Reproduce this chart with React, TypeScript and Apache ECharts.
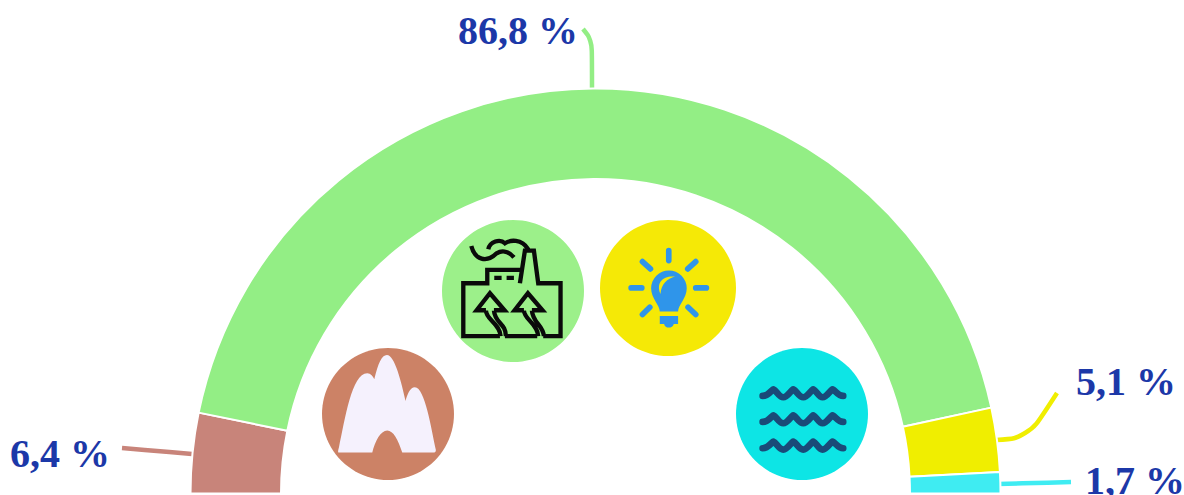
import React, { useEffect, useRef } from "react";
import * as echarts from "echarts";

const categories = ["Minerals", "Heat", "Electricity", "Water"];
const shares = [6.4, 86.8, 5.1, 1.7];
const sliceColors = ["#c8847a", "#93ee85", "#f0ee00", "#3fecf2"];

const labelAnchors = [
  { x: 10, y: 453, points: [[192, 454], [157, 451], [122, 448]] },
  { x: 458, y: 30, points: [[592, 91], [592, 40], [583, 29]] },
  { x: 1076, y: 381, points: [[996, 440], [1028, 438], [1057, 393]] },
  { x: 1085, y: 480, points: [[998, 484], [1035, 483], [1071, 482]] },
];

const FACTORY =
  "M210,379 L100,379 L100,220 L172,220 L172,180 L272,180 M270,220 L285,122 L312,122 L325,220 L392,220 L392,379 L340,379 M225,379 L322,379 " +
  "M168,302 C168,330 210,340 212,379 M192,302 C195,340 228,340 228,379 M168,301 L140,301 L180,250 L224,301 L192,301 " +
  "M282,302 C284,330 322,340 325,379 M306,302 C309,340 340,345 342,379 M282,301 L254,301 L294,250 L338,301 L306,301 " +
  "M124,108 C135,150 170,160 200,130 C220,118 240,128 252,142 M175,118 C180,95 210,85 225,100 C240,90 275,85 295,118 " +
  "M193,204 L215,204 M230,204 L252,204";
const BULB =
  "M690,305 C690,285 664,265 664,235 A53.5,53.5 0 1 1 771,235 C771,265 745,285 745,305 Z " +
  "M690,318 L745,318 L745,342 L732,342 C730,350 724,353 717,353 C710,353 705,350 703,342 L690,342 Z";
const BULB_RAYS =
  "M717,122 L717,152 M638,155 L662,177 M798,155 L774,177 M604,234 L636,234 M798,234 L830,234 M638,314 L660,292 M798,314 L775,292";
const BULB_SHINE = "M692,252 C678,218 700,196 736,200 C712,206 695,222 692,252 Z";
const PEAKS =
  "M85,338 Q83,335 87,322 C105,240 125,100 172,100 C182,100 190,110 193,118 C205,70 215,45 231,45 C255,45 275,130 287,183 C292,165 300,142 315,142 C345,142 365,270 378,330 Q378,338 370,338 L277,338 C265,300 250,272 232,272 C212,272 195,305 187,338 Z";
const WAVE =
  "M113,168 C130,168 138,152 145,148 C155,152 162,172 175,172 C188,172 197,152 205,148 C215,152 222,172 235,172 C248,172 257,152 265,148 C275,152 281,172 293,172 C306,172 315,152 323,148 C333,152 338,168 355,168";

echarts.graphic.registerShape("factoryIcon", echarts.graphic.extendPath(FACTORY, {}));
echarts.graphic.registerShape("bulbIcon", echarts.graphic.extendPath(BULB, {}));
echarts.graphic.registerShape("bulbRays", echarts.graphic.extendPath(BULB_RAYS, {}));
echarts.graphic.registerShape("bulbShine", echarts.graphic.extendPath(BULB_SHINE, {}));
echarts.graphic.registerShape("peaksIcon", echarts.graphic.extendPath(PEAKS, {}));
echarts.graphic.registerShape("waveIcon", echarts.graphic.extendPath(WAVE, {}));

const third = 1 / 3;
const icon = (type: string, x: number, y: number, style: any, dy = 0) => ({
  type,
  x,
  y: y + dy,
  scaleX: third,
  scaleY: third,
  silent: true,
  style,
});

export default function App() {
  const ref = useRef<HTMLDivElement>(null);
  useEffect(() => {
    const chart = echarts.init(ref.current!, null, { renderer: "svg" });
    chart.setOption({
      animation: false,
      backgroundColor: "#ffffff",
      series: [
        {
          type: "pie",
          center: [595.5, 493.5],
          radius: [314.5, 405],
          startAngle: 180,
          endAngle: 360,
          clockwise: true,
          avoidLabelOverlap: false,
          itemStyle: { borderColor: "#ffffff", borderWidth: 2 },
          label: {
            show: true,
            formatter: (p: any) => `${String(p.value).replace(".", ",")} %`,
            fontFamily: "Liberation Serif",
            fontWeight: "bold",
            fontSize: 40,
            color: "#1c38a8",
          },
          labelLine: { show: true, smooth: 0.4, lineStyle: { width: 4.5 } },
          labelLayout: (p: any) => {
            const a = labelAnchors[p.dataIndex];
            return { x: a.x, y: a.y, align: "left", verticalAlign: "middle", labelLinePoints: a.points };
          },
          data: categories.map((name, i) => ({
            name,
            value: shares[i],
            itemStyle: { color: sliceColors[i] },
          })),
        },
      ],
      graphic: [
        { type: "circle", shape: { cx: 513, cy: 291, r: 71 }, style: { fill: "#9cf08a" }, silent: true },
        { type: "circle", shape: { cx: 668, cy: 288, r: 68 }, style: { fill: "#f5e906" }, silent: true },
        { type: "circle", shape: { cx: 388, cy: 414, r: 66 }, style: { fill: "#cc8266" }, silent: true },
        { type: "circle", shape: { cx: 802, cy: 414, r: 66 }, style: { fill: "#0de5e5" }, silent: true },
        icon("factoryIcon", 430, 210, { fill: "none", stroke: "#0a0a0a", lineWidth: 13, lineJoin: "miter" }),
        icon("bulbRays", 430, 210, { fill: "none", stroke: "#2f95ea", lineWidth: 17, lineCap: "round" }),
        icon("bulbIcon", 430, 210, { fill: "#2f95ea" }),
        icon("bulbShine", 430, 210, { fill: "#f5e906" }),
        icon("peaksIcon", 310, 340, { fill: "#f5f1fd" }),
        ...[0, 26, 52.3].map((dy) =>
          icon("waveIcon", 725, 340, { fill: "none", stroke: "#1a4a78", lineWidth: 20, lineCap: "round", lineJoin: "round" }, dy)
        ),
      ],
    });
    return () => chart.dispose();
  }, []);
  return <div ref={ref} style={{ position: "absolute", left: 0, top: 0, width: 1184, height: 495 }} />;
}
